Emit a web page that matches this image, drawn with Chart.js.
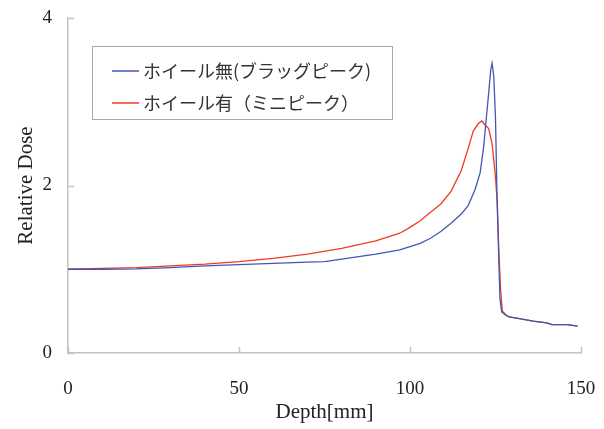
<!DOCTYPE html>
<html>
<head>
<meta charset="utf-8">
<script src="https://cdn.jsdelivr.net/npm/chart.js@4"></script>
<style>
  html, body { margin: 0; padding: 0; background: #fff; }
  #wrap { width: 604px; height: 429px; }
</style>
</head>
<body>
<div id="wrap"><canvas id="chart"></canvas></div>
<script>
// Depth [mm] and relative dose
const depthNoWheel = [0, 10, 20, 30, 40, 50, 60, 70, 75, 80, 90, 97, 103, 106, 109, 112, 115, 117, 119, 120.5, 121.5, 122.3, 123, 123.6, 124, 124.5, 125, 125.4, 125.8, 126.3, 126.8, 128, 129, 132, 136, 140, 141.5, 143, 146, 149]
const doseNoWheel = [1.0, 1.0, 1.005, 1.02, 1.04, 1.055, 1.07, 1.085, 1.09, 1.12, 1.18, 1.23, 1.31, 1.37, 1.45, 1.55, 1.66, 1.76, 1.95, 2.15, 2.45, 2.8, 3.1, 3.38, 3.46, 3.3, 2.8, 1.95, 1.35, 0.65, 0.49, 0.45, 0.43, 0.41, 0.38, 0.36, 0.34, 0.34, 0.34, 0.32]

const depthWheel = [0, 10, 20, 30, 40, 50, 60, 70, 80, 90, 97, 100, 103, 106, 109, 112, 115, 117, 118.5, 120, 121, 122, 123, 124, 125, 125.5, 126, 126.5, 127, 128, 129, 132, 136, 140, 141.5, 143, 146, 149]
const doseWheel = [1.0, 1.01, 1.02, 1.04, 1.06, 1.09, 1.13, 1.18, 1.25, 1.34, 1.43, 1.5, 1.58, 1.68, 1.78, 1.93, 2.18, 2.44, 2.65, 2.74, 2.77, 2.72, 2.68, 2.5, 2.1, 1.8, 1.2, 0.75, 0.5, 0.46, 0.43, 0.41, 0.38, 0.36, 0.34, 0.34, 0.34, 0.32]

const seriesLabels = ["ホイール無(ブラッグピーク)", "ホイール有（ミニピーク）"]
const xTicks = [0, 50, 100, 150]
const yTicks = [0, 2, 4]

const blue = "#4456b4"
const red = "#ee3b26"
const axisGrey = "#c4c4c4"

const toPoints = (xs, ys) => xs.map((x, i) => ({ x: x, y: ys[i] }))

// ticks pointing into the plot, and the boxed legend
const innerTicks = {
  id: "innerTicks",
  afterDraw(chart) {
    const ctx = chart.ctx
    const { x, y } = chart.scales
    ctx.save()
    ctx.strokeStyle = axisGrey
    ctx.lineWidth = 1.5
    ctx.beginPath()
    yTicks.forEach(v => {
      const py = Math.round(y.getPixelForValue(v)) + 0.5
      ctx.moveTo(x.left, py)
      ctx.lineTo(x.left + 6, py)
    })
    xTicks.forEach(v => {
      const px = Math.round(x.getPixelForValue(v)) + 0.5
      ctx.moveTo(px, y.bottom)
      ctx.lineTo(px, y.bottom - 6)
    })
    ctx.stroke()
    ctx.restore()
  }
}

const boxedLegend = {
  id: "boxedLegend",
  afterDraw(chart) {
    const ctx = chart.ctx
    ctx.save()
    ctx.fillStyle = "#fff"
    ctx.fillRect(92, 46, 300, 73)
    ctx.strokeStyle = "#a8a8a8"
    ctx.lineWidth = 1
    ctx.strokeRect(92.5, 46.5, 300, 73)
    ctx.font = "18px 'Noto Sans CJK JP'"
    ctx.textBaseline = "middle"
    const rowsY = [71, 103]
    chart.data.datasets.forEach((ds, i) => {
      ctx.strokeStyle = ds.borderColor
      ctx.lineWidth = 1.5
      ctx.beginPath()
      ctx.moveTo(112, rowsY[i])
      ctx.lineTo(139, rowsY[i])
      ctx.stroke()
      ctx.fillStyle = "#333"
      ctx.fillText(ds.label, 143, rowsY[i])
    })
    ctx.restore()
  }
}

new Chart(document.getElementById("chart"), {
  type: "line",
  data: {
    datasets: [
      { label: seriesLabels[0], data: toPoints(depthNoWheel, doseNoWheel), borderColor: blue, borderWidth: 1.3, pointRadius: 0, tension: 0 },
      { label: seriesLabels[1], data: toPoints(depthWheel, doseWheel), borderColor: red, borderWidth: 1.3, pointRadius: 0, tension: 0 }
    ]
  },
  options: {
    responsive: true,
    maintainAspectRatio: false,
    animation: false,
    layout: { padding: { top: 18, right: 23, left: 0, bottom: 0 } },
    plugins: { legend: { display: false }, tooltip: { enabled: false } },
    scales: {
      x: {
        type: "linear",
        min: 0, max: 150,
        afterBuildTicks: s => { s.ticks = xTicks.map(v => ({ value: v })) },
        afterFit: s => { s.height = 76; s.paddingLeft = 0; s.paddingRight = 0 },
        ticks: { color: "#222", font: { family: "Liberation Serif", size: 19 }, padding: 25, maxRotation: 0 },
        grid: { display: true, drawOnChartArea: false, drawTicks: false },
        border: { color: axisGrey, width: 1.5 },
        title: { display: true, text: "Depth[mm]", color: "#222", font: { family: "Liberation Serif", size: 21 }, padding: { top: 0 } }
      },
      y: {
        min: 0, max: 4,
        afterBuildTicks: s => { s.ticks = yTicks.map(v => ({ value: v })) },
        afterFit: s => { s.width = 68; s.paddingTop = 0; s.paddingBottom = 0 },
        ticks: { color: "#222", font: { family: "Liberation Serif", size: 19 }, padding: 16 },
        grid: { display: true, drawOnChartArea: false, drawTicks: false },
        border: { color: axisGrey, width: 1.5 },
        title: { display: true, text: "Relative Dose", color: "#222", font: { family: "Liberation Serif", size: 21 }, padding: { top: 14, bottom: 0 } }
      }
    }
  },
  plugins: [innerTicks, boxedLegend]
})
</script>
</body>
</html>
